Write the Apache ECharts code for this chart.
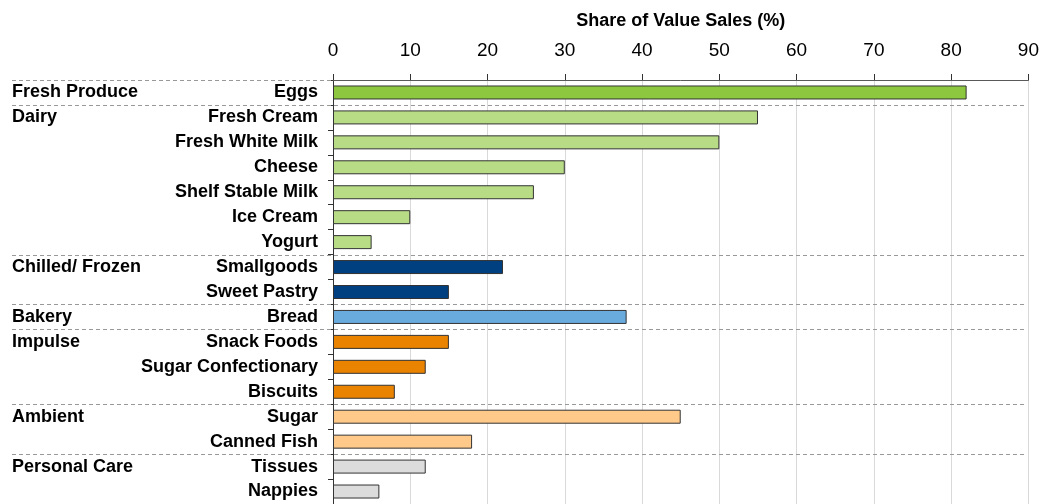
<!DOCTYPE html>
<html>
<head>
<meta charset="utf-8">
<script src="https://cdn.jsdelivr.net/npm/echarts@6/dist/echarts.min.js"></script>
<style>
html, body { margin: 0; padding: 0; background: #fff; }
#chart { width: 1042px; height: 504px; }
</style>
</head>
<body>
<div id="chart"></div>
<script>
// data
var products = ['Eggs', 'Fresh Cream', 'Fresh White Milk', 'Cheese', 'Shelf Stable Milk', 'Ice Cream', 'Yogurt',
    'Smallgoods', 'Sweet Pastry', 'Bread', 'Snack Foods', 'Sugar Confectionary', 'Biscuits',
    'Sugar', 'Canned Fish', 'Tissues', 'Nappies']
var groups = ['Fresh Produce', 'Dairy', 'Dairy', 'Dairy', 'Dairy', 'Dairy', 'Dairy',
    'Chilled/ Frozen', 'Chilled/ Frozen', 'Bakery', 'Impulse', 'Impulse', 'Impulse',
    'Ambient', 'Ambient', 'Personal Care', 'Personal Care']
var shares = [82, 55, 50, 30, 26, 10, 5, 22, 15, 38, 15, 12, 8, 45, 18, 12, 6]
var xTicks = [0, 10, 20, 30, 40, 50, 60, 70, 80, 90]

// colours per group
var groupColors = {
    'Fresh Produce': '#8dc63f',
    'Dairy': '#b8dc86',
    'Chilled/ Frozen': '#004080',
    'Bakery': '#6aabdd',
    'Impulse': '#e98300',
    'Ambient': '#ffc98a',
    'Personal Care': '#dcdcdc'
}

var isGroupStart = function (i) {
    return i === 0 || groups[i] !== groups[i - 1]
}

var font = 'Liberation Sans, Arial, sans-serif'
var myChart = echarts.init(document.getElementById('chart'))

var option = {
    animation: false,
    grid: { left: 333, right: 11, top: 80, bottom: 0 },
    xAxis: {
        type: 'value',
        position: 'top',
        min: xTicks[0],
        max: xTicks[xTicks.length - 1],
        interval: 10,
        name: 'Share of Value Sales (%)',
        nameLocation: 'middle',
        nameGap: 50,
        nameTextStyle: { fontFamily: font, fontSize: 18, fontWeight: 'bold', color: '#000' },
        axisLine: { show: true, lineStyle: { color: '#595959', width: 1 } },
        axisTick: { show: true, inside: false, length: 6, lineStyle: { color: '#333' } },
        axisLabel: { margin: 20, fontFamily: font, fontSize: 19, color: '#000' },
        splitLine: { show: true, lineStyle: { color: '#d9d9d9', width: 1 } }
    },
    yAxis: {
        type: 'category',
        inverse: true,
        data: products,
        axisLine: { show: true, lineStyle: { color: '#333', width: 1 } },
        axisTick: { show: true, length: 5, lineStyle: { color: '#333' } },
        axisLabel: { margin: 15, fontFamily: font, fontSize: 18, fontWeight: 'bold', color: '#000' },
        splitLine: { show: false }
    },
    series: [{
        type: 'bar',
        barWidth: 14,
        data: shares.map(function (v, i) {
            return {
                value: v,
                itemStyle: { color: groupColors[groups[i]], borderColor: '#333', borderWidth: 1 }
            }
        })
    }]
}
myChart.setOption(option)

// dashed separators and group names, placed from the category axis
var c0 = myChart.convertToPixel({ yAxisIndex: 0 }, 0)
var c1 = myChart.convertToPixel({ yAxisIndex: 0 }, 1)
var band = c1 - c0
var xLeft = myChart.convertToPixel({ xAxisIndex: 0 }, 0)
var xRight = myChart.convertToPixel({ xAxisIndex: 0 }, xTicks[xTicks.length - 1])
var elements = []
for (var i = 0; i < products.length; i++) {
    if (!isGroupStart(i)) continue
    var yc = myChart.convertToPixel({ yAxisIndex: 0 }, i)
    var y = Math.round(yc - band / 2) + 0.5
    elements.push({
        type: 'line',
        silent: true,
        z: 1,
        shape: { x1: 12, y1: y, x2: i === 0 ? xLeft : xRight - 3, y2: y },
        style: { stroke: '#999', lineWidth: 1, lineDash: [4, 3] }
    })
    elements.push({
        type: 'text',
        silent: true,
        x: 12,
        y: yc,
        style: {
            text: groups[i],
            font: 'bold 18px ' + font,
            fill: '#000',
            verticalAlign: 'middle',
            align: 'left'
        }
    })
}
myChart.setOption({ graphic: elements })
</script>
</body>
</html>
